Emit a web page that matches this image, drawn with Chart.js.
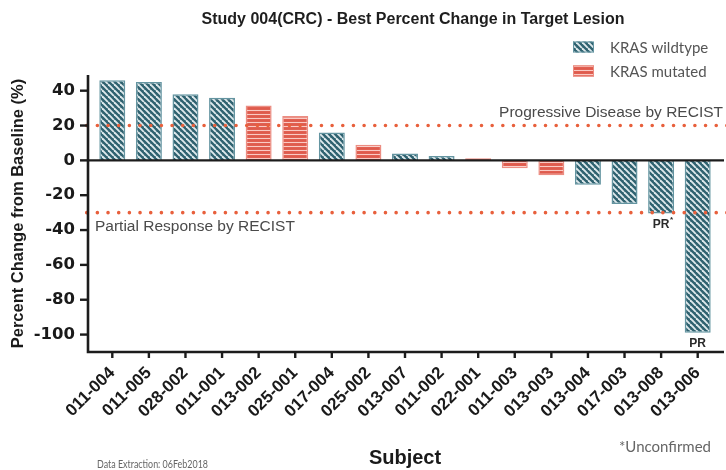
<!DOCTYPE html>
<html><head><meta charset="utf-8">
<script src="https://cdn.jsdelivr.net/npm/chart.js@4.4.1/dist/chart.umd.min.js"></script>
<style>html,body{margin:0;padding:0;background:#fff}canvas{display:block}</style>
</head><body>
<canvas id="c" width="726" height="470"></canvas>
<script>
// ---- data ----
const subjects = ['011-004','011-005','028-002','011-001','013-002','025-001','017-004','025-002','013-007','011-002','022-001','011-003','013-003','013-004','017-003','013-008','013-006'];
const changes  = [46, 45, 38, 36, 31.5, 25.5, 16, 9, 4, 2.5, 1.2, -4.5, -8.5, -14, -25, -30.5, -99];
const krasStatus = ['wt','wt','wt','wt','mut','mut','wt','mut','wt','wt','mut','mut','mut','wt','wt','wt','wt'];
const responseNotes = ['','','','','','','','','','','','','','','','PR*','PR'];
const yTicks = [40, 20, 0, -20, -40, -60, -80, -100];
const thresholdValues = [20, -30];
const thresholdLabels = ['Progressive Disease by RECIST', 'Partial Response by RECIST'];
const seriesNames = ['KRAS wildtype', 'KRAS mutated'];

// ---- patterns ----
function makePattern(bg, fg, kind) {
  const c = document.createElement('canvas');
  const s = kind === 'diag' ? 6 : 4;
  c.width = s; c.height = s;
  const g = c.getContext('2d');
  g.fillStyle = bg; g.fillRect(0, 0, s, s);
  g.strokeStyle = fg;
  if (kind === 'diag') {
    g.lineWidth = 1.9;
    for (const o of [-s, 0, s]) { g.beginPath(); g.moveTo(o, 0); g.lineTo(o + s, s); g.stroke(); }
  } else {
    g.lineWidth = 1.1;
    g.beginPath(); g.moveTo(0, 2.5); g.lineTo(s, 2.5); g.stroke();
  }
  return document.createElement('canvas').getContext('2d').createPattern(c, 'repeat');
}
const tealFill = makePattern('#2f6270', 'rgba(232,240,242,0.95)', 'diag');
const redFill  = makePattern('#df5b4d', 'rgba(252,212,206,0.92)', 'horiz');
const tealBorder = '#6495a1';
const redBorder = '#ec8d82';

const wtData  = changes.map((v, i) => krasStatus[i] === 'wt'  ? v : null);
const mutData = changes.map((v, i) => krasStatus[i] === 'mut' ? v : null);

const AXIS_L = 88, AXIS_R = 724;

const decor = {
  id: 'decor',
  afterDatasetsDraw(chart) {
    const { ctx, chartArea: a, scales: { x, y } } = chart;
    ctx.save();
    // threshold dotted lines
    thresholdValues.forEach(v => {
      const py = y.getPixelForValue(v);
      ctx.beginPath();
      ctx.setLineDash([0, 10.67]);
      ctx.lineCap = 'round';
      ctx.lineWidth = 3.6;
      ctx.strokeStyle = '#e8603c';
      ctx.moveTo(86.7, py); ctx.lineTo(AXIS_R + 4, py); ctx.stroke();
    });
    ctx.setLineDash([]);
    ctx.lineCap = 'butt';
    // zero line
    const y0 = y.getPixelForValue(0);
    ctx.strokeStyle = '#1c1c1c';
    ctx.lineWidth = 2.2;
    ctx.beginPath(); ctx.moveTo(AXIS_L, y0); ctx.lineTo(AXIS_R, y0); ctx.stroke();
    // axes
    ctx.lineWidth = 2.6;
    ctx.beginPath();
    ctx.moveTo(AXIS_L, a.top); ctx.lineTo(AXIS_L, a.bottom); ctx.lineTo(AXIS_R, a.bottom);
    ctx.stroke();
    // y tick marks
    ctx.lineWidth = 2.4;
    yTicks.forEach(v => {
      const py = y.getPixelForValue(v);
      ctx.beginPath(); ctx.moveTo(80, py); ctx.lineTo(AXIS_L, py); ctx.stroke();
    });
    // x tick marks
    subjects.forEach((s, i) => {
      const px = x.getPixelForValue(i);
      ctx.beginPath(); ctx.moveTo(px, a.bottom); ctx.lineTo(px, a.bottom + 6); ctx.stroke();
    });
    // threshold labels
    ctx.fillStyle = '#4a4a4a';
    ctx.font = '15.5px "Liberation Sans", Arial, sans-serif';
    ctx.textBaseline = 'middle';
    ctx.textAlign = 'right';
    ctx.fillText(thresholdLabels[0], 723, y.getPixelForValue(thresholdValues[0]) - 13);
    ctx.textAlign = 'left';
    ctx.fillText(thresholdLabels[1], 95, y.getPixelForValue(thresholdValues[1]) + 14);
    // response notes
    ctx.fillStyle = '#2a2a2a';
    ctx.textAlign = 'center';
    responseNotes.forEach((t, i) => {
      if (!t) return;
      const px = x.getPixelForValue(i);
      const py = y.getPixelForValue(changes[i]) + 11;
      const base = t.replace('*', '');
      ctx.font = 'bold 12px "Liberation Sans", Arial, sans-serif';
      ctx.fillText(base, px, py);
      if (t.includes('*')) {
        const w = ctx.measureText(base).width;
        ctx.font = 'bold 8px "Liberation Sans", Arial, sans-serif';
        ctx.textAlign = 'left';
        ctx.fillText('*', px + w / 2 + 0.5, py - 5);
        ctx.textAlign = 'center';
      }
    });
    ctx.restore();
  },
  afterDraw(chart) {
    const { ctx } = chart;
    ctx.save();
    // title
    ctx.fillStyle = '#1e1e1e';
    ctx.textBaseline = 'middle';
    ctx.textAlign = 'center';
    ctx.font = 'bold 16px "Liberation Sans", Arial, sans-serif';
    ctx.fillText('Study 004(CRC) - Best Percent Change in Target Lesion', 413, 20, 428);
    // legend
    const fills = [tealFill, redFill], borders = [tealBorder, redBorder], ys = [47, 71];
    seriesNames.forEach((n, i) => {
      ctx.fillStyle = fills[i];
      ctx.fillRect(573, ys[i] - 5.5, 21, 11);
      ctx.strokeStyle = borders[i]; ctx.lineWidth = 1;
      ctx.strokeRect(573.5, ys[i] - 5, 20, 10);
      ctx.fillStyle = '#555';
      ctx.font = '15px Lato, "Open Sans", sans-serif';
      ctx.textAlign = 'left';
      ctx.fillText(n, 610, ys[i] + 1);
    });
    // footnotes
    ctx.fillStyle = '#666';
    ctx.font = '15px Lato, sans-serif';
    ctx.textAlign = 'right';
    ctx.fillText('*Unconfirmed', 711, 447);
    ctx.font = '12px Lato, sans-serif';
    ctx.textAlign = 'left';
    ctx.fillText('Data Extraction: 06Feb2018', 97, 464, 111);
    ctx.restore();
  }
};

new Chart(document.getElementById('c'), {
  type: 'bar',
  data: {
    labels: subjects,
    datasets: [
      { label: seriesNames[0], data: wtData, backgroundColor: tealFill, borderColor: tealBorder, borderWidth: 1.5, grouped: false, barPercentage: 0.71, categoryPercentage: 1 },
      { label: seriesNames[1], data: mutData, backgroundColor: redFill, borderColor: redBorder, borderWidth: 1.5, grouped: false, barPercentage: 0.71, categoryPercentage: 1 }
    ]
  },
  options: {
    responsive: false,
    animation: false,
    devicePixelRatio: 1,
    layout: { padding: { top: 75, right: 10, bottom: 0, left: 0 } },
    plugins: { legend: { display: false }, title: { display: false }, tooltip: { enabled: false } },
    scales: {
      x: {
        offset: true,
        grid: { display: false, drawTicks: false },
        border: { display: false },
        ticks: { autoSkip: false, minRotation: 45, maxRotation: 45, padding: 11, color: '#1a1a1a',
                 font: { family: '"Liberation Sans", Arial, sans-serif', weight: 'bold', size: 17 } },
        title: { display: true, text: 'Subject', color: '#1a1a1a', padding: { top: 0, bottom: 0 },
                 font: { family: '"Liberation Sans", Arial, sans-serif', weight: 'bold', size: 20 } },
        afterFit(s) { s.height = 118; }
      },
      y: {
        min: -110, max: 49,
        afterBuildTicks(s) { s.ticks = yTicks.map(v => ({ value: v })); },
        grid: { display: false, drawTicks: false },
        border: { display: false },
        ticks: { padding: 19, color: '#1a1a1a',
                 font: { family: '"DejaVu Sans", sans-serif', weight: 'bold', size: 16.5 } },
        title: { display: true, text: 'Percent Change from Baseline (%)', color: '#1a1a1a', padding: { top: 9, bottom: 0 },
                 font: { family: '"Liberation Sans", Arial, sans-serif', weight: 'bold', size: 16.5 } },
        afterFit(s) { s.width = 94; }
      }
    }
  },
  plugins: [decor]
});
</script>
</body></html>
